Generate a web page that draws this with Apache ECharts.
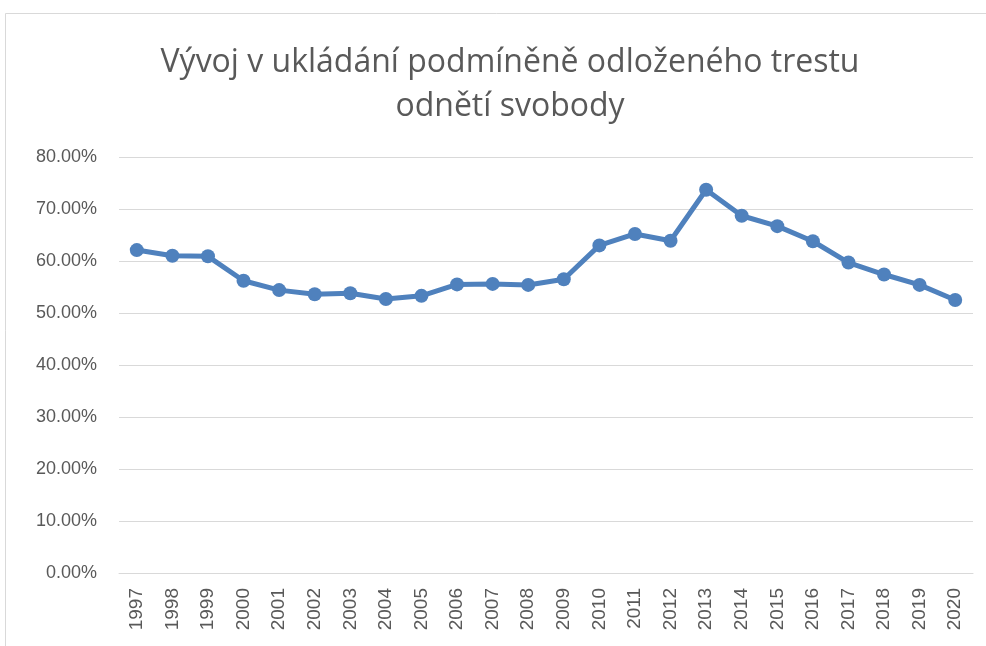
<!DOCTYPE html>
<html><head><meta charset="utf-8">
<script src="https://cdn.jsdelivr.net/npm/echarts@6/dist/echarts.min.js"></script>
<style>html,body{margin:0;padding:0;background:#fff}#c{width:986px;height:646px}</style>
</head><body><div id="c"></div>
<script>
const titleText = "Vývoj v ukládání podmíněně odloženého trestu\nodnětí svobody";
const years = ["1997","1998","1999","2000","2001","2002","2003","2004","2005","2006","2007","2008","2009","2010","2011","2012","2013","2014","2015","2016","2017","2018","2019","2020"];
const values = [62.1,61.0,60.9,56.2,54.4,53.6,53.8,52.7,53.3,55.5,55.6,55.4,56.5,63.0,65.2,63.9,73.7,68.7,66.7,63.8,59.7,57.4,55.4,52.5];
const yTicks = [0,10,20,30,40,50,60,70,80];

const chart = echarts.init(document.getElementById('c'));
chart.setOption({
  animation:false,
  backgroundColor:'#fff',
  graphic:[{type:'rect',shape:{x:5.5,y:13.5,width:990,height:700},style:{fill:'none',stroke:'#d9d9d9',lineWidth:1}}],
  title:{text:titleText,left:505,top:36,textAlign:'center',
    textStyle:{fontFamily:'Open Sans',fontWeight:'normal',fontSize:32,color:'#595959',lineHeight:44}},
  grid:{left:119,right:13,top:157,bottom:73,containLabel:false},
  xAxis:{type:'category',data:years,boundaryGap:true,
    axisLine:{show:true,lineStyle:{color:'#d9d9d9',width:1}},axisTick:{show:false},
    axisLabel:{rotate:90,interval:0,fontFamily:'Liberation Sans',fontSize:19,color:'#595959',margin:15}},
  yAxis:{type:'value',min:yTicks[0],max:yTicks[yTicks.length-1],interval:10,
    axisLine:{show:false},axisTick:{show:false},
    splitLine:{lineStyle:{color:'#d9d9d9',width:1}},
    axisLabel:{fontFamily:'Liberation Sans',fontSize:18,color:'#595959',margin:22,formatter:v=>v.toFixed(2)+'%'}},
  series:[{type:'line',data:values,symbol:'circle',symbolSize:14,
    lineStyle:{color:'#4f81bd',width:5},itemStyle:{color:'#4f81bd'}}]
});
</script></body></html>
